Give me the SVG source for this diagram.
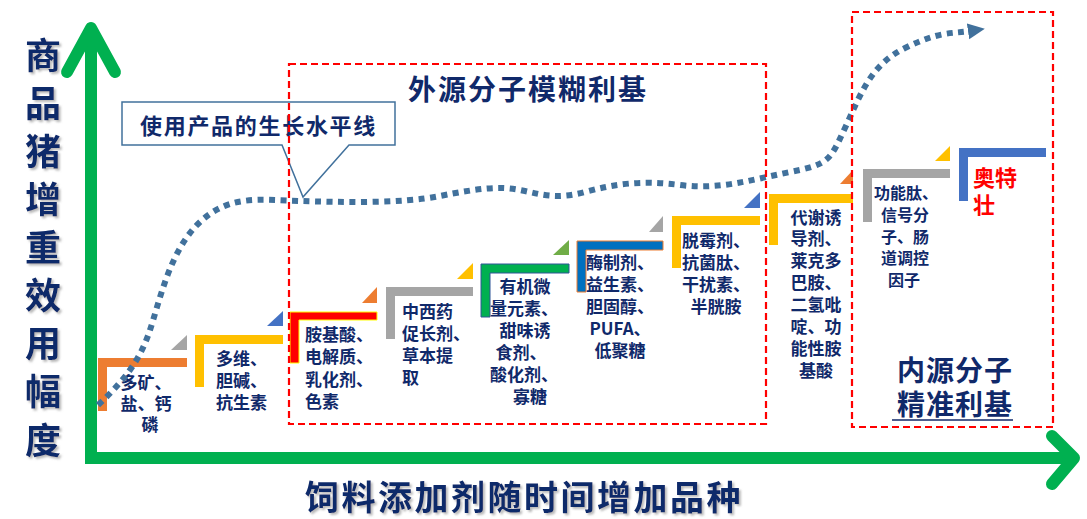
<svg xmlns="http://www.w3.org/2000/svg" width="1087" height="519" viewBox="0 0 1087 519">
<defs>
<style>
.t{font-family:"Noto Sans CJK SC","Noto Sans",sans-serif;font-weight:bold;fill:#10296a}
.s{font-size:17px}
.big{font-size:36px}
.axis{fill:none;stroke:#00B050;stroke-width:12;stroke-linecap:round;stroke-linejoin:round}
.box{fill:none;stroke:#FF0000;stroke-width:2.2;stroke-dasharray:7 4}
.curve{fill:none;stroke:#41719C;stroke-width:6;stroke-dasharray:6 5.5}
</style>
<filter id="sh" x="-20%" y="-20%" width="140%" height="140%">
<feDropShadow dx="2" dy="2" stdDeviation="1" flood-color="#808080" flood-opacity="0.55"/>
</filter>
<marker id="ah" markerUnits="userSpaceOnUse" markerWidth="18" markerHeight="18" refX="2" refY="8" orient="auto">
<path d="M0,0 L17,8 L0,16 Z" fill="#41719C"/>
</marker>
</defs>
<rect width="1087" height="519" fill="#fff"/>

<g id="axes">
<line x1="91" y1="30" x2="91" y2="463" stroke="#00B050" stroke-width="12"/>
<line x1="85" y1="458" x2="1073" y2="458" stroke="#00B050" stroke-width="12"/>
<polyline class="axis" points="67,72 91,28 115,72"/>
<polyline class="axis" points="1052,436 1074,458 1052,484"/>
</g>

<g id="step1">
<polygon points="98,358 187,358 187,367 107,367 107,411 98,411" fill="#ED7D31"/>
<polygon points="171,350 187,350 187,335" fill="#A5A5A5"/>
<text class="t s" text-anchor="middle"><tspan x="146" y="389">多矿、</tspan><tspan x="146" y="410">盐、钙</tspan><tspan x="150" y="431">磷</tspan></text>
</g>
<g id="step2">
<polygon points="195,335 283,335 283,344 204,344 204,387 195,387" fill="#FFC000"/>
<polygon points="267,326 283,326 283,311" fill="#4472C4"/>
<text class="t s"><tspan x="216" y="365">多维、</tspan><tspan x="216" y="387">胆碱、</tspan><tspan x="216" y="409">抗生素</tspan></text>
</g>
<g id="step3">
<polygon points="290,312 377,312 377,320 299,320 299,363 290,363" fill="#FF0000" stroke="#FFFF00" stroke-width="1"/>
<polygon points="362,303 377,303 377,287" fill="#ED7D31"/>
<text class="t s"><tspan x="305" y="341">胺基酸、</tspan><tspan x="305" y="363">电解质、</tspan><tspan x="305" y="386">乳化剂、</tspan><tspan x="305" y="408">色素</tspan></text>
</g>
<g id="step4">
<polygon points="386,287 473,287 473,296 395,296 395,339 386,339" fill="#A5A5A5"/>
<polygon points="457,279 473,279 473,263" fill="#FFC000"/>
<text class="t s"><tspan x="402" y="318">中西药</tspan><tspan x="402" y="340">促长剂、</tspan><tspan x="402" y="362">草本提</tspan><tspan x="402" y="384">取</tspan></text>
</g>
<g id="step5">
<polygon points="481,264 569,264 569,273 490,273 490,317 481,317" fill="#00B050" stroke="#2F5597" stroke-width="1"/>
<polygon points="553,255 569,255 569,240" fill="#70AD47"/>
<text class="t s" text-anchor="middle"><tspan x="525" y="293">有机微</tspan><tspan x="524" y="315">量元素、</tspan><tspan x="525" y="337">甜味诱</tspan><tspan x="521" y="359">食剂、</tspan><tspan x="524" y="381">酸化剂、</tspan><tspan x="530" y="403">寡糖</tspan></text>
</g>
<g id="step6">
<polygon points="577,241 663,241 663,250 586,250 586,292 577,292" fill="#0070C0" stroke="#ED7D31" stroke-width="1"/>
<polygon points="649,232 663,232 663,216" fill="#A5A5A5"/>
<text class="t s" text-anchor="middle"><tspan x="620" y="269">酶制剂、</tspan><tspan x="620" y="291">益生素、</tspan><tspan x="620" y="313">胆固醇、</tspan><tspan x="620" y="335">PUFA、</tspan><tspan x="620" y="357">低聚糖</tspan></text>
</g>
<g id="step7">
<polygon points="672,216 760,216 760,225 681,225 681,268 672,268" fill="#FFC000"/>
<polygon points="744,208 760,208 760,192" fill="#4472C4"/>
<text class="t s" text-anchor="middle"><tspan x="716" y="247">脱霉剂、</tspan><tspan x="716" y="269">抗菌肽、</tspan><tspan x="716" y="291">干扰素、</tspan><tspan x="716" y="313">半胱胺</tspan></text>
</g>
<g id="step8">
<polygon points="769,194 853,194 853,203 778,203 778,245 769,245" fill="#FFC000"/>
<polygon points="840,184 853,184 853,170" fill="#ED7D31"/>
<text class="t s" text-anchor="middle"><tspan x="816" y="223.5">代谢诱</tspan><tspan x="816" y="245.4">导剂、</tspan><tspan x="816" y="267.3">莱克多</tspan><tspan x="816" y="289.2">巴胺、</tspan><tspan x="816" y="311.1">二氢吡</tspan><tspan x="816" y="333">啶、功</tspan><tspan x="816" y="354.9">能性胺</tspan><tspan x="816" y="376.8">基酸</tspan></text>
</g>
<g id="step9">
<polygon points="863,169 950,169 950,178 872,178 872,222 863,222" fill="#A5A5A5"/>
<polygon points="935,161 950,161 950,146" fill="#FFC000"/>
<text class="t" style="font-size:16px" text-anchor="middle"><tspan x="906" y="199">功能肽、</tspan><tspan x="905" y="221">信号分</tspan><tspan x="905" y="243">子、肠</tspan><tspan x="905" y="264">道调控</tspan><tspan x="904" y="286">因子</tspan></text>
</g>
<g id="step10">
<polygon points="959,148 1046,148 1046,157 968,157 968,201 959,201" fill="#4472C4"/>
<text class="t" style="font-size:22px;fill:#FF0000"><tspan x="973" y="186">奥特</tspan><tspan x="973" y="213">壮</tspan></text>
</g>

<g id="connectors">
<path class="curve" marker-end="url(#ah)" d="M98,405 C125,380 140,360 150,330 S170,250 200,222 S260,200 300,201 S400,204 440,196 S500,186 520,190 S555,200 585,192 S640,180 680,185 S750,180 790,172 S830,160 845,128 S870,65 905,48 S950,34 970,31"/>
</g>

<g id="callout">
<path d="M122,102 H395 V145 H349 L303,197 L282,145 H122 Z" fill="#fff" stroke="#41719C" stroke-width="1.5"/>
<text class="t" style="font-size:22px;letter-spacing:1.7px" x="140" y="134">使用产品的生长水平线</text>
</g>

<g id="exo-zone">
<rect class="box" x="289" y="64" width="477" height="360"/>
<text class="t" style="font-size:28px;letter-spacing:2px" x="528" y="100" text-anchor="middle">外源分子模糊利基</text>
</g>
<g id="endo-zone">
<rect class="box" x="852" y="12" width="201" height="415"/>
<text class="t" style="font-size:28px;letter-spacing:1px" x="955" y="381" text-anchor="middle">内源分子</text>
<text class="t" style="font-size:28px;letter-spacing:1px" x="955" y="415" text-anchor="middle">精准利基</text>
<line x1="892" y1="420" x2="1013" y2="420" stroke="#10296a" stroke-width="1.5"/>
</g>

<g id="y-label" filter="url(#sh)">
<text class="t big" text-anchor="middle"><tspan x="43" y="68.7">商</tspan><tspan x="43" y="116.8">品</tspan><tspan x="43" y="164.9">猪</tspan><tspan x="43" y="213">增</tspan><tspan x="43" y="261.1">重</tspan><tspan x="43" y="309.2">效</tspan><tspan x="43" y="357.3">用</tspan><tspan x="43" y="405.4">幅</tspan><tspan x="43" y="453.5">度</tspan></text>
</g>
<g id="x-label" filter="url(#sh)">
<text class="t" style="font-size:34px;letter-spacing:2.5px" x="305" y="510">饲料添加剂随时间增加品种</text>
</g>
</svg>
